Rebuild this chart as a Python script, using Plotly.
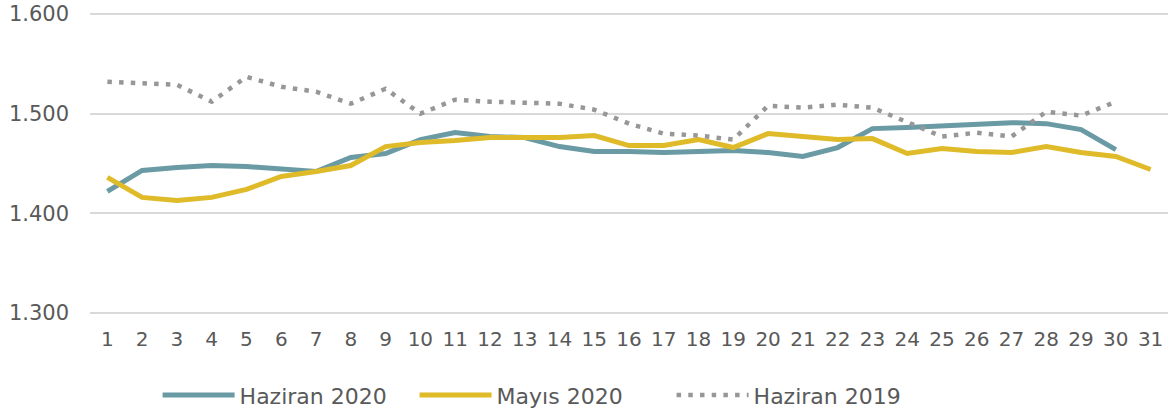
import plotly.graph_objects as go

days = list(range(1, 32))

haziran_2020 = [1.422, 1.443, 1.446, 1.448, 1.447, 1.444, 1.442, 1.456, 1.460, 1.474,
                1.481, 1.477, 1.476, 1.467, 1.462, 1.462, 1.461, 1.462, 1.463, 1.461,
                1.457, 1.466, 1.485, 1.486, 1.488, 1.490, 1.491, 1.490, 1.484, 1.464]

mayis_2020 = [1.436, 1.416, 1.413, 1.416, 1.424, 1.437, 1.442, 1.448, 1.467, 1.471,
              1.473, 1.476, 1.476, 1.476, 1.478, 1.468, 1.468, 1.474, 1.466, 1.480,
              1.477, 1.474, 1.475, 1.460, 1.465, 1.462, 1.461, 1.467, 1.461, 1.457,
              1.444]

haziran_2019 = [1.532, 1.531, 1.529, 1.512, 1.537, 1.527, 1.522, 1.510, 1.525, 1.500,
                1.514, 1.512, 1.511, 1.510, 1.504, 1.490, 1.480, 1.478, 1.474, 1.508,
                1.506, 1.509, 1.506, 1.492, 1.477, 1.481, 1.477, 1.502, 1.498, 1.512]

y_ticks = [1.300, 1.400, 1.500, 1.600]
y_tick_labels = ["1.300", "1.400", "1.500", "1.600"]

FONT = "DejaVu Sans"
TXT = "#595959"

fig = go.Figure()
fig.add_trace(go.Scatter(
    x=days[:len(haziran_2020)], y=haziran_2020, name="Haziran 2020", mode="lines",
    line=dict(color="#6A9AA4", width=5),
))
fig.add_trace(go.Scatter(
    x=days, y=mayis_2020, name="Mayıs 2020", mode="lines",
    line=dict(color="#DFBA29", width=5),
))
fig.add_trace(go.Scatter(
    x=days[:len(haziran_2019)], y=haziran_2019, name="Haziran 2019", mode="lines",
    line=dict(color="#979797", width=4.5, dash="4.5px,7.2px"),
))

fig.update_layout(
    width=1172, height=416,
    margin=dict(l=90, r=4, t=12, b=101),
    paper_bgcolor="white", plot_bgcolor="white",
    font=dict(family=FONT, color=TXT),
    showlegend=True,
    legend=dict(
        orientation="h", x=0.0627, xanchor="left",
        yref="container", y=0.05, yanchor="middle",
        font=dict(size=22, color=TXT), itemwidth=72,
        entrywidth=170, entrywidthmode="pixels",
        traceorder="normal",
    ),
    xaxis=dict(
        range=[0.5, 31.5], tickmode="array", tickvals=days,
        ticktext=[str(d) for d in days], showgrid=False, zeroline=False,
        showline=False, ticks="", tickfont=dict(size=20, color=TXT),
        automargin=False, ticklabelstandoff=10,
    ),
    # a little padding so the 1.300 / 1.600 gridlines are not clipped
    yaxis=dict(
        range=[1.298, 1.602], tickmode="array", tickvals=y_ticks,
        ticktext=y_tick_labels, showgrid=True, gridcolor="#D9D9D9",
        gridwidth=2, zeroline=False, showline=False, ticks="",
        tickfont=dict(size=21, color=TXT), ticklabelstandoff=20,
        automargin=False,
    ),
)

# drop the browser's default body margin so the figure sits at the page corner
fig.write_html(
    "out.html",
    config={"displayModeBar": False},
    post_script="document.body.style.margin='0';",
)
